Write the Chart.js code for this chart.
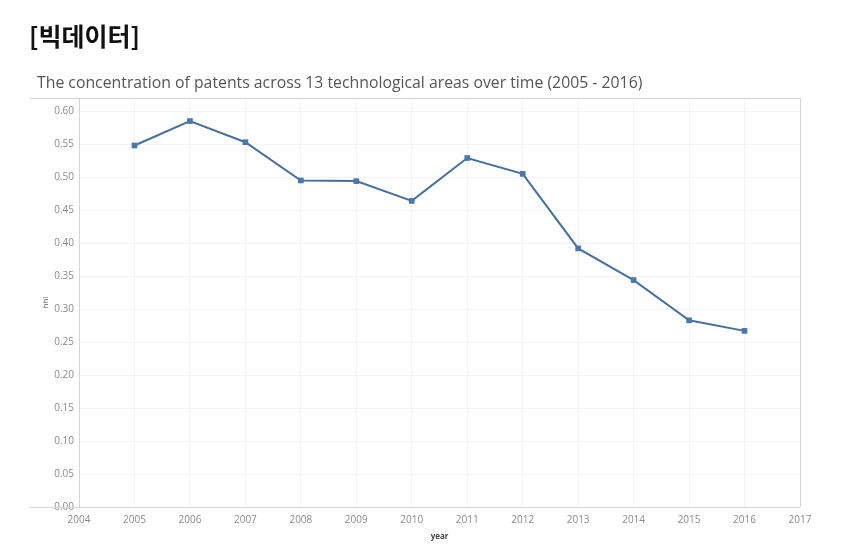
<!DOCTYPE html>
<html>
<head>
<meta charset="utf-8">
<script src="https://cdn.jsdelivr.net/npm/chart.js@4"></script>
<style>
  body { margin: 0; background: #fff; }
  #wrap { position: relative; width: 842px; height: 549px; }
  #head { position: absolute; left: 29px; top: 17px; font-family: "Noto Sans CJK KR", sans-serif; font-weight: 700; font-size: 25px; color: #111; }
  #sub { position: absolute; left: 37px; top: 71px; font-family: "Open Sans", sans-serif; font-size: 15.8px; color: #555; white-space: nowrap; }
  canvas { position: absolute; left: 0; top: 0; }
</style>
</head>
<body>
<div id="wrap">
  <canvas id="hhiChart" width="842" height="549"></canvas>
  <div id="head">[빅데이터]</div>
  <div id="sub">The concentration of patents across 13 technological areas over time (2005 - 2016)</div>
</div>
<script>
// data
const years = [2005, 2006, 2007, 2008, 2009, 2010, 2011, 2012, 2013, 2014, 2015, 2016];
const hhi = [0.548, 0.585, 0.553, 0.495, 0.494, 0.464, 0.529, 0.505, 0.392, 0.344, 0.283, 0.267];
const yTicks = [0, 0.05, 0.10, 0.15, 0.20, 0.25, 0.30, 0.35, 0.40, 0.45, 0.50, 0.55, 0.60];
const xTicks = [2004, 2005, 2006, 2007, 2008, 2009, 2010, 2011, 2012, 2013, 2014, 2015, 2016, 2017];

// frame lines like the original (top and bottom run out to the left)
const frame = {
  id: 'frame',
  afterDraw(chart) {
    const a = chart.chartArea, c = chart.ctx;
    c.save();
    c.strokeStyle = '#d4d4d4';
    c.lineWidth = 1;
    c.beginPath();
    c.moveTo(30, a.top + 0.5); c.lineTo(a.right, a.top + 0.5);
    c.moveTo(30, a.bottom + 0.5); c.lineTo(a.right, a.bottom + 0.5);
    c.moveTo(a.right + 0.5, a.top); c.lineTo(a.right + 0.5, a.bottom);
    c.moveTo(a.left + 0.5, a.top); c.lineTo(a.left + 0.5, a.bottom);
    c.stroke();
    c.restore();
  }
};

const ctx = document.getElementById('hhiChart').getContext('2d');
new Chart(ctx, {
  type: 'line',
  data: {
    datasets: [{
      label: 'hhi',
      data: years.map((y, i) => ({ x: y, y: hhi[i] })),
      borderColor: '#46709c',
      backgroundColor: '#4a78aa',
      borderWidth: 2,
      pointStyle: 'rect',
      pointRadius: 4,
      pointBorderWidth: 0,
      tension: 0
    }]
  },
  options: {
    responsive: false,
    animation: false,
    layout: { padding: { top: 98, right: 42, left: 30, bottom: 0 } },
    plugins: { legend: { display: false }, tooltip: { enabled: false } },
    scales: {
      x: {
        type: 'linear',
        min: 2004,
        max: 2017,
        afterBuildTicks: s => { s.ticks = xTicks.map(v => ({ value: v })); },
        afterFit: s => { s.height = 42; },
        border: { display: false },
        grid: { color: '#f3f3f3', drawTicks: false },
        ticks: { callback: v => String(v), color: '#8a8a8a', font: { family: 'Open Sans', size: 10 }, padding: 7, maxRotation: 0 },
        title: { display: true, text: 'year', color: '#444', font: { family: 'Open Sans', size: 8, weight: 'bold' }, padding: { top: 0, bottom: 7 } }
      },
      y: {
        min: 0,
        max: 0.62,
        afterBuildTicks: s => { s.ticks = yTicks.map(v => ({ value: v })); },
        afterFit: s => { s.width = 49; },
        border: { display: false },
        grid: { color: '#f3f3f3', drawTicks: false },
        ticks: { callback: v => v.toFixed(2), color: '#8a8a8a', font: { family: 'Open Sans', size: 10 }, padding: 5 },
        title: { display: true, text: 'hhi', color: '#555', font: { family: 'Open Sans', size: 8 }, padding: { top: 11, bottom: 0 } }
      }
    }
  },
  plugins: [frame]
});
</script>
</body>
</html>
